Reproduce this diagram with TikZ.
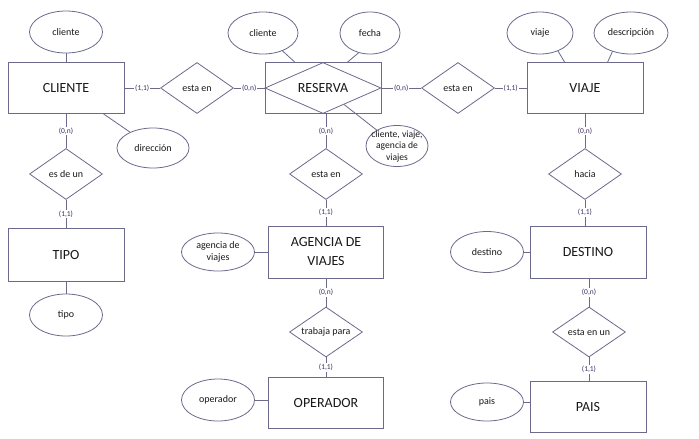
\documentclass[tikz,border=0pt]{standalone}
\usepackage{fontspec}
\setmainfont{Carlito}
\usetikzlibrary{shapes.geometric,calc}
\definecolor{ln}{RGB}{108,106,140}
\definecolor{cardc}{RGB}{60,45,95}
\definecolor{tx}{RGB}{25,25,25}
\begin{document}
\begin{tikzpicture}[x=1pt,y=-1pt,
  entity/.style={draw=ln, line width=0.8pt, rectangle, minimum width=116pt, minimum height=51pt, inner sep=0pt, font=\fontsize{14}{19}\selectfont, text=tx, align=center},
  attr/.style={draw=ln, line width=0.8pt, ellipse, minimum width=73pt, minimum height=42pt, inner sep=0pt, font=\fontsize{10}{12}\selectfont, text=tx, align=center},
  rel/.style={draw=ln, line width=0.8pt, diamond, aspect=1.45, minimum width=73pt, minimum height=51pt, inner sep=0.5pt, font=\fontsize{10}{12}\selectfont, text=tx},
  card/.style={fill=white, inner sep=1pt, font=\fontsize{7.5}{9}\selectfont, text=cardc},
  conn/.style={draw=ln, line width=0.8pt}]
\fill[white] (0,0) rectangle (699,439);
\useasboundingbox (0,0) rectangle (699,439);
% left column
\node[attr] (cliA) at (66,32) {cliente};
\node[entity] (CLI) at (66,88) {CLIENTE};
\node[attr, minimum width=72pt, minimum height=40pt] (dir) at (153,148) {dirección};
\node[rel] (r1) at (197,88) {esta en};
\node[rel] (r4) at (66,174) {es de un};
\node[entity, minimum height=53pt] (TIPO) at (66,255) {TIPO};
\node[attr] (tipo) at (66,315) {tipo};
% middle column
\node[attr, minimum width=70pt] (cliB) at (263,33) {cliente};
\node[attr, minimum width=60pt] (fecha) at (370,33) {fecha};
\node[entity, minimum width=116pt] (RES) at (323,88) {RESERVA};
\node[draw=ln, line width=0.8pt, diamond, minimum width=116pt, minimum height=51pt, inner sep=0pt] (RESD) at (RES) {};
\node[rel] (r2) at (458,88) {esta en};
\node[attr, minimum width=62pt, minimum height=41pt] (comp) at (397,146) {};
\node[font=\fontsize{9.6}{11.5}\selectfont, text=tx, align=center, inner sep=0pt] (compT) at (comp) {cliente, viaje,\\agencia de\\viajes};
\node[rel] (r3) at (326,174) {esta en};
\node[entity, minimum width=115pt, minimum height=52pt] (AGE) at (326,252) {AGENCIA DE\\VIAJES};
\node[attr, minimum height=38pt] (ag) at (218,252) {agencia de\\viajes};
\node[rel, minimum height=50pt] (r6) at (326,332) {trabaja para};
\node[entity, minimum width=115pt] (OPE) at (326,403) {OPERADOR};
\node[attr] (op) at (218,400) {operador};
% right column
\node[attr, minimum width=66pt] (viaje) at (540,33) {viaje};
\node[attr, minimum width=74pt] (desc) at (631,33) {descripción};
\node[entity] (VIA) at (585,88) {VIAJE};
\node[rel] (r5) at (585,174) {hacia};
\node[entity, minimum height=52pt] (DES) at (588,252) {DESTINO};
\node[attr, minimum height=41pt] (dest) at (487,252) {destino};
\node[rel, minimum height=50pt] (r7) at (589,332) {esta en un};
\node[entity] (PAIS) at (588,407) {PAIS};
\node[attr, minimum height=38pt] (pais) at (487,402) {pais};
% connectors
\draw[conn] (cliA) -- (CLI);
\draw[conn] (CLI) -- (dir);
\draw[conn] (CLI) -- node[card]{(1,1)} (r1);
\draw[conn] (r1) -- node[card]{(0,n)} (RES);
\draw[conn] (RES) -- node[card]{(0,n)} (r2);
\draw[conn] (r2) -- node[card]{(1,1)} (VIA);
\draw[conn] (CLI) -- node[card]{(0,n)} (r4);
\draw[conn] (r4) -- node[card]{(1,1)} (TIPO);
\draw[conn] (TIPO) -- (tipo);
\draw[conn] (cliB) -- (RES);
\draw[conn] (fecha.-120) -- ($(RES.north west)+(83,0)$);
\draw[conn] (RESD) -- (comp);
\draw[conn] (r3 |- RES.south) -- node[card]{(0,n)} (r3);
\draw[conn] (r3) -- node[card]{(1,1)} (AGE);
\draw[conn] (ag) -- (AGE);
\draw[conn] (AGE) -- node[card]{(0,n)} (r6);
\draw[conn] (r6) -- node[card]{(1,1)} (OPE);
\draw[conn] (op.east) -- (op.east -| OPE.west);
\draw[conn] (viaje.-45) -- ($(VIA.north west)+(38,0)$);
\draw[conn] (desc.-135) -- ($(VIA.north west)+(81,0)$);
\draw[conn] (VIA) -- node[card]{(0,n)} (r5);
\draw[conn] (r5) -- node[card]{(1,1)} (r5 |- DES.north);
\draw[conn] (dest) -- (DES);
\draw[conn] (r7 |- DES.south) -- node[card]{(0,n)} (r7);
\draw[conn] (r7) -- node[card]{(1,1)} (r7 |- PAIS.north);
\draw[conn] (pais.east) -- (pais.east -| PAIS.west);
\end{tikzpicture}
\end{document}
